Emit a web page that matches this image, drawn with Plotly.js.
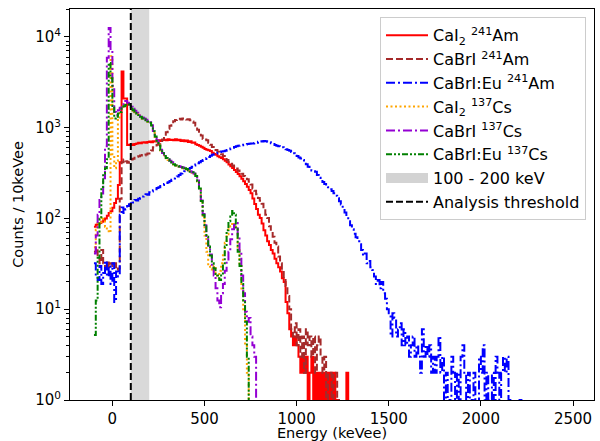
<!DOCTYPE html>
<html><head><meta charset="utf-8">
<script src="https://cdn.plot.ly/plotly-3.0.1.min.js"></script>
<style>html,body{margin:0;padding:0;background:#fff}#chart{width:600px;height:441px}</style>
</head><body><div id="chart"></div>
<script>
// Histogram bins: 10 keVee wide, first bin left edge at binStart (keVee)
const binStart = -100;
const binWidth = 10;

// CaI2 241Am (one row = 100 keVee)
const cai2Am = [
  81, 85, 87, 89, 92, 96, 100, 107, 115, 120,
  131, 148, 165, 233, 415, 4150, 2100, 2100, 645, 650,
  655, 645, 662, 668, 680, 673, 685, 690, 680, 697,
  703, 690, 708, 703, 720, 727, 715, 732, 738, 727,
  744, 732, 738, 727, 744, 727, 738, 715, 727, 710,
  720, 697, 710, 680, 685, 657, 645, 633, 617, 600,
  582, 571, 565, 553, 530, 513, 502, 485, 473, 462,
  450, 433, 416, 393, 376, 359, 342, 325, 308, 291,
  274, 257, 240, 223, 206, 189, 166, 144, 127, 110,
  101, 88, 74, 65, 56, 51, 45, 41, 36, 32,
  29, 26, 22, 20, 12, 9, 6, 5, 4, 5,
  4, 3, 2, 3, 2, 3, 1, 2, 3, 0,
  2, 1, 2, 0, 2, 1, 2, 0, 2, 1,
  2, 0, 1, 0, 0, 0, 0, 2, 0
];
// CaBrI 241Am
const cabriAm = [
  43, 48, 38, 32, 45, 32, 30, 34, 29, 32,
  30, 32, 27, 28, 165, 415, 445, 427, 410, 420,
  445, 455, 467, 478, 484, 495, 500, 495, 507, 518,
  520, 560, 610, 635, 650, 665, 685, 740, 810, 890,
  970, 1050, 1120, 1180, 1215, 1240, 1250, 1227, 1262, 1240,
  1227, 1240, 1204, 1170, 1135, 1055, 950, 880, 822, 752,
  740, 728, 682, 648, 613, 590, 567, 544, 527, 510,
  487, 464, 441, 418, 401, 384, 373, 355, 338, 321,
  310, 293, 281, 270, 253, 236, 213, 202, 185, 168,
  157, 145, 128, 110, 101, 82, 71, 63, 54, 49,
  38, 32, 27, 22, 18, 14, 10, 6, 5, 7,
  4, 6, 3, 5, 2, 6, 4, 5, 3, 5,
  2, 4, 5, 3, 2, 3, 1, 2, 2, 1,
  2, 2, 1, 0
];
// CaBrI:Eu 241Am
const cabrieuAm = [
  32, 23, 21, 30, 19, 25, 34, 23, 30, 19,
  32, 12, 26, 23, 110, 132, 115, 126, 137, 143,
  154, 150, 160, 158, 165, 168, 174, 178, 185, 182,
  194, 198, 205, 210, 216, 220, 228, 233, 239, 245,
  250, 258, 267, 275, 284, 290, 301, 312, 324, 330,
  342, 350, 359, 370, 382, 392, 405, 415, 428, 440,
  451, 462, 474, 490, 503, 510, 520, 530, 538, 545,
  549, 558, 566, 578, 590, 600, 612, 622, 630, 636,
  641, 648, 653, 660, 664, 668, 670, 676, 682, 700,
  710, 705, 715, 708, 700, 690, 672, 660, 645, 632,
  624, 615, 607, 590, 578, 566, 555, 538, 521, 505,
  487, 470, 458, 440, 418, 395, 372, 355, 338, 330,
  326, 300, 281, 265, 252, 240, 229, 220, 210, 200,
  189, 178, 167, 155, 142, 130, 116, 104, 93, 84,
  76, 68, 62, 56, 52, 45, 39, 41, 32, 34,
  29, 27, 23, 19, 21, 17, 20, 15, 13, 10,
  9, 5, 9, 8, 5, 6, 7, 4, 6, 4,
  5, 3, 4, 5, 3, 4, 3, 2, 6, 3,
  4, 3, 4, 2, 3, 2, 3, 5, 2, 3,
  1, 2, 0, 1, 3, 2, 1, 2, 0, 3,
  4, 2, 1, 2, 0, 1, 2, 1, 0, 3,
  2, 4, 1, 2, 1, 0, 2, 1, 3, 2,
  1, 2, 3, 2, 3, 1, 0, 0, 0, 0,
  0, 1, 0
];
// CaI2 137Cs
const cai2Cs = [
  48, 75, 92, 87, 104, 98, 81, 75, 70, 6100,
  508, 358, 426, 1260, 1610, 1700, 1760, 1800, 1790, 1700,
  1610, 1540, 1480, 1410, 1360, 1300, 1250, 1230, 1190, 1160,
  1120, 1040, 900, 790, 710, 630, 560, 515, 480, 460,
  440, 425, 410, 392, 380, 375, 370, 363, 358, 352,
  346, 335, 324, 318, 306, 290, 255, 208, 150, 104,
  65, 43, 30, 28, 26, 30, 23.5, 22, 26.5, 32,
  41, 54, 67, 76, 82, 90, 85, 76, 48, 30,
  16, 9.4, 4, 2, 0
];
// CaBrI 137Cs
const cabriCs = [
  41, 65, 110, 160, 188, 277, 622, 5900, 12500, 7100,
  2900, 1490, 1375, 1550, 1660, 1790, 1900, 1960, 1880, 1800,
  1700, 1620, 1540, 1460, 1400, 1340, 1290, 1260, 1220, 1190,
  1150, 1060, 920, 800, 720, 640, 570, 525, 490, 468,
  450, 433, 416, 400, 388, 381, 375, 369, 363, 357,
  351, 340, 330, 323, 312, 295, 262, 215, 158, 112,
  84, 64, 50, 40, 30, 23.5, 17, 12.5, 10.5, 15,
  19, 26.5, 34, 43, 59, 76, 85, 89, 65, 43,
  23.5, 15, 9.4, 7.3, 8, 5, 4, 3, 0
];
// CaBrI:Eu 137Cs
const cabrieuCs = [
  5.2, 12.5, 37, 99, 222, 313, 358, 450, 5150, 3500,
  1730, 1260, 1320, 1430, 1490, 1630, 1720, 1780, 1810, 1720,
  1630, 1550, 1490, 1420, 1375, 1318, 1260, 1238, 1204, 1170,
  1135, 1055, 912, 797, 717, 637, 566, 521, 487, 464,
  447, 430, 413, 396, 384, 379, 373, 367, 362, 356,
  350, 339, 327, 322, 310, 293, 259, 213, 156, 110,
  82, 63, 49, 39, 32, 28, 24.5, 23.5, 21, 23.5,
  32, 49, 74, 93, 105, 121, 110, 76, 43, 30,
  19, 12.5, 7.3, 3, 0
];

const bandRange = [100, 200];      // keV shaded region
const threshold = 100;             // analysis threshold (keVee)
const xTickVals = [0, 500, 1000, 1500, 2000, 2500];
const yTickVals = [1, 10, 100, 1000, 10000];
const yTickText = ['10<sup>0</sup>', '10<sup>1</sup>', '10<sup>2</sup>', '10<sup>3</sup>', '10<sup>4</sup>'];

const seriesNames = ['CaI<sub>2</sub> <sup>241</sup>Am', 'CaBrI <sup>241</sup>Am', 'CaBrI:Eu <sup>241</sup>Am',
                     'CaI<sub>2</sub> <sup>137</sup>Cs', 'CaBrI <sup>137</sup>Cs', 'CaBrI:Eu <sup>137</sup>Cs'];
const seriesData = [cai2Am, cabriAm, cabrieuAm, cai2Cs, cabriCs, cabrieuCs];
const seriesColors = ['#ff0000', '#a52a2a', '#0000ff', '#ffa500', '#9400d3', '#008000'];
const seriesDash = ['solid', '7px,3px', '9px,3px,2px,3px', '2px,2.5px', '9px,3px,2px,3px', '6px,2px,2px,2px,2px,2px'];

const yMinLog = 0, yMaxLog = 4.307;
const FLOOR = 1e-2; // empty bins drop below the axis like log(0)

function stepTrace(counts, i) {
  const x = [], y = [];
  counts.forEach((c, k) => { x.push(binStart + k * binWidth); y.push(c > 0 ? c : FLOOR); });
  return {
    x, y, type: 'scatter', mode: 'lines', name: seriesNames[i],
    line: {shape: 'hv', color: seriesColors[i], width: 2, dash: seriesDash[i]},
    legendrank: i + 1, hoverinfo: 'skip'
  };
}

const traces = seriesData.map(stepTrace);
traces.push({x: [null], y: [null], type: 'scatter', mode: 'lines', name: '100 - 200 keV',
  line: {color: '#d3d3d3', width: 12}, legendrank: 7});
traces.push({x: [null], y: [null], type: 'scatter', mode: 'lines', name: 'Analysis threshold',
  line: {color: 'black', width: 2, dash: '7px,3px'}, legendrank: 8});

const minorVals = [];
for (let d = 0; d < 5; d++) for (let m = 2; m <= 9; m++) minorVals.push(m * Math.pow(10, d));

const layout = {
  width: 600, height: 441,
  margin: {l: 70, r: 6, t: 9, b: 41, pad: 0},
  paper_bgcolor: 'white', plot_bgcolor: 'white',
  font: {family: 'DejaVu Sans, sans-serif', size: 15, color: 'black'},
  showlegend: true,
  xaxis: {
    range: [-230, 2614], tickmode: 'array', tickvals: xTickVals,
    ticks: 'outside', ticklen: 5, tickwidth: 1, tickcolor: 'black',
    tickfont: {size: 15},
    showline: true, linecolor: 'black', linewidth: 1, mirror: true,
    showgrid: false, zeroline: false,
    title: {text: 'Energy (keVee)', font: {size: 14.5}, standoff: 12}
  },
  yaxis: {
    type: 'log', range: [yMinLog, yMaxLog], tickmode: 'array', tickvals: yTickVals, ticktext: yTickText,
    ticks: 'outside', ticklen: 5, tickwidth: 1, tickcolor: 'black',
    tickfont: {size: 15},
    minor: {tickmode: 'array', tickvals: minorVals, ticks: 'outside', ticklen: 3, tickwidth: 1, tickcolor: 'black', showgrid: false},
    showline: true, linecolor: 'black', linewidth: 1, mirror: true,
    showgrid: false, zeroline: false,
    title: {text: 'Counts / 10keVee', font: {size: 14.5}, standoff: 8}
  },
  legend: {
    x: 0.5916, y: 0.9788, xanchor: 'left', yanchor: 'top',
    bgcolor: 'rgba(255,255,255,0.85)', bordercolor: '#cccccc', borderwidth: 1,
    font: {size: 16}, itemwidth: 42
  },
  shapes: [
    {type: 'rect', xref: 'x', yref: 'paper', x0: bandRange[0], x1: bandRange[1], y0: 0, y1: 1,
     fillcolor: '#d9d9d9', line: {width: 0}, layer: 'below'},
    {type: 'line', xref: 'x', yref: 'paper', x0: threshold, x1: threshold, y0: 0, y1: 1,
     line: {color: 'black', width: 2, dash: '7px,3px'}, layer: 'above'}
  ]
};

Plotly.newPlot('chart', traces, layout, {displayModeBar: false, staticPlot: true});
</script></body></html>
